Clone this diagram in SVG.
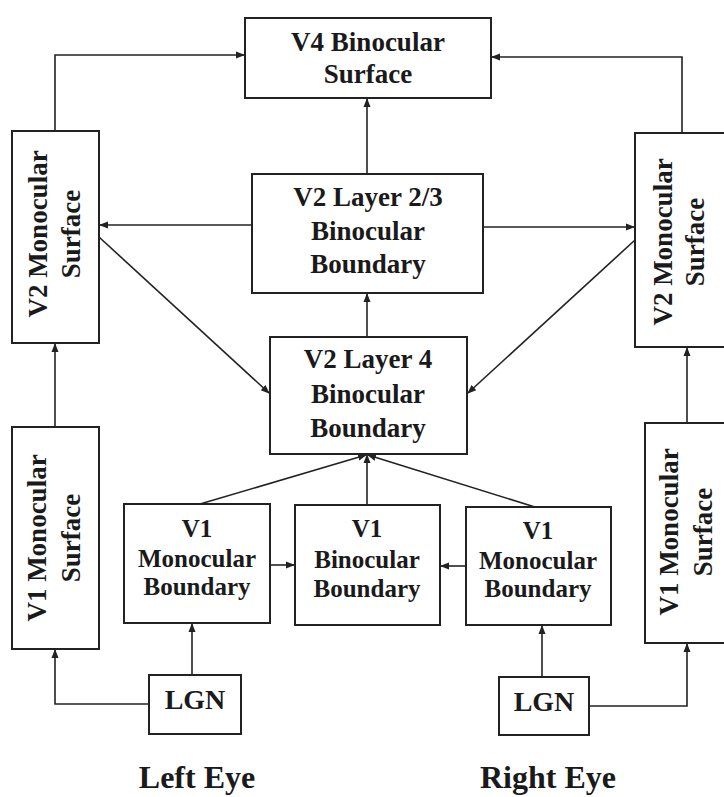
<svg xmlns="http://www.w3.org/2000/svg" width="724" height="797" viewBox="0 0 724 797">
<style>
.box{fill:#fff;stroke:#222;stroke-width:2}
.t{font-family:"Liberation Serif","Times New Roman",serif;font-weight:bold;fill:#1a1a1a;text-anchor:middle}
.c{fill:none;stroke:#222;stroke-width:1.6}
</style>
<defs>
<marker id="ah" markerWidth="9" markerHeight="8" refX="8" refY="4" orient="auto" markerUnits="userSpaceOnUse">
<path d="M0,0.5 L9,4 L0,7.5 Z" fill="#222"/>
</marker>
</defs>
<rect width="724" height="797" fill="#fff"/>
<g id="connectors">
<polyline class="c" points="55,131 55,55 244,55" marker-end="url(#ah)"/>
<polyline class="c" points="682,133 682,57 492,57" marker-end="url(#ah)"/>
<line class="c" x1="367" y1="174" x2="367" y2="99" marker-end="url(#ah)"/>
<line class="c" x1="252" y1="225" x2="100" y2="225" marker-end="url(#ah)"/>
<line class="c" x1="483" y1="227" x2="634" y2="227" marker-end="url(#ah)"/>
<line class="c" x1="367" y1="337" x2="367" y2="294" marker-end="url(#ah)"/>
<line class="c" x1="99" y1="237" x2="269" y2="393" marker-end="url(#ah)"/>
<line class="c" x1="635" y1="240" x2="468" y2="393" marker-end="url(#ah)"/>
<line class="c" x1="55" y1="427" x2="55" y2="344" marker-end="url(#ah)"/>
<line class="c" x1="687" y1="423" x2="687" y2="348" marker-end="url(#ah)"/>
<line class="c" x1="200" y1="504" x2="366" y2="455" marker-end="url(#ah)"/>
<line class="c" x1="367" y1="504" x2="367" y2="455" stroke-width="2.4" marker-end="url(#ah)"/>
<line class="c" x1="535" y1="507" x2="368" y2="455" marker-end="url(#ah)"/>
<line class="c" x1="270" y1="565" x2="294" y2="565" marker-end="url(#ah)"/>
<line class="c" x1="466" y1="566" x2="441" y2="566" marker-end="url(#ah)"/>
<line class="c" x1="192" y1="675" x2="192" y2="624" marker-end="url(#ah)"/>
<polyline class="c" points="149,704 55,704 55,650" marker-end="url(#ah)"/>
<line class="c" x1="542" y1="677" x2="542" y2="626" marker-end="url(#ah)"/>
<polyline class="c" points="589,706 687,706 687,644" marker-end="url(#ah)"/>
</g>
<g id="v4">
<rect class="box" x="245" y="18" width="246" height="80"/>
<text class="t" font-size="27" x="368" y="51">V4 Binocular</text>
<text class="t" font-size="27" x="368" y="83">Surface</text>
</g>
<g id="v2-mono-left">
<rect class="box" x="12" y="131" width="87" height="212"/>
<text class="t" font-size="27" transform="translate(47,234) rotate(-90)">V2 Monocular</text>
<text class="t" font-size="27" transform="translate(80,234) rotate(-90)">Surface</text>
</g>
<g id="v2-mono-right">
<rect class="box" x="635" y="133" width="100" height="214"/>
<text class="t" font-size="27" transform="translate(672,242) rotate(-90)">V2 Monocular</text>
<text class="t" font-size="27" transform="translate(704,242) rotate(-90)">Surface</text>
</g>
<g id="v2-l23">
<rect class="box" x="252" y="174" width="231" height="119"/>
<text class="t" font-size="27" x="368" y="206">V2 Layer 2/3</text>
<text class="t" font-size="27" x="368" y="240">Binocular</text>
<text class="t" font-size="27" x="368" y="273">Boundary</text>
</g>
<g id="v2-l4">
<rect class="box" x="270" y="337" width="197" height="117"/>
<text class="t" font-size="27" x="368" y="368">V2 Layer 4</text>
<text class="t" font-size="27" x="368" y="403">Binocular</text>
<text class="t" font-size="27" x="368" y="437">Boundary</text>
</g>
<g id="v1-surf-left">
<rect class="box" x="12" y="427" width="87" height="222"/>
<text class="t" font-size="27" transform="translate(46,538) rotate(-90)">V1 Monocular</text>
<text class="t" font-size="27" transform="translate(80,538) rotate(-90)">Surface</text>
</g>
<g id="v1-surf-right">
<rect class="box" x="645" y="423" width="90" height="220"/>
<text class="t" font-size="27" transform="translate(678,532) rotate(-90)">V1 Monocular</text>
<text class="t" font-size="27" transform="translate(712,532) rotate(-90)">Surface</text>
</g>
<g id="v1-mb-left">
<rect class="box" x="124" y="504" width="146" height="119"/>
<text class="t" font-size="25" x="197" y="537">V1</text>
<text class="t" font-size="25" x="197" y="567">Monocular</text>
<text class="t" font-size="25" x="197" y="595">Boundary</text>
</g>
<g id="v1-bb">
<rect class="box" x="295" y="505" width="145" height="120"/>
<text class="t" font-size="25" x="367" y="537">V1</text>
<text class="t" font-size="25" x="367" y="568">Binocular</text>
<text class="t" font-size="25" x="367" y="597">Boundary</text>
</g>
<g id="v1-mb-right">
<rect class="box" x="466" y="507" width="145" height="118"/>
<text class="t" font-size="25" x="538" y="539">V1</text>
<text class="t" font-size="25" x="538" y="569">Monocular</text>
<text class="t" font-size="25" x="538" y="597">Boundary</text>
</g>
<g id="lgn-left">
<rect class="box" x="149" y="675" width="92" height="59"/>
<text class="t" font-size="28" x="195" y="709">LGN</text>
</g>
<g id="lgn-right">
<rect class="box" x="499" y="677" width="90" height="58"/>
<text class="t" font-size="28" x="544" y="711">LGN</text>
</g>
<g id="labels">
<text class="t" font-size="32" x="197" y="788">Left Eye</text>
<text class="t" font-size="32" x="548" y="788">Right Eye</text>
</g>
</svg>
